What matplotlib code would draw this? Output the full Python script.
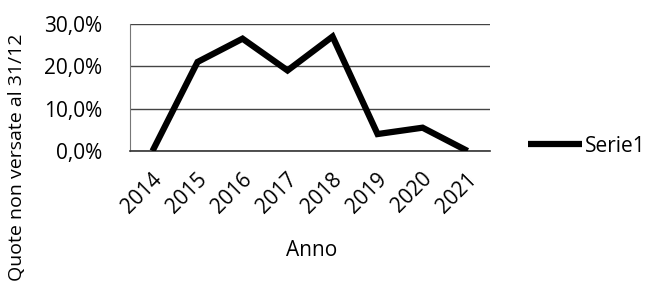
import matplotlib
matplotlib.use('Agg')
import matplotlib.pyplot as plt
from matplotlib.ticker import FuncFormatter
from matplotlib.transforms import ScaledTranslation

anni = ['2014', '2015', '2016', '2017', '2018', '2019', '2020', '2021']
quote = [0.0, 21.0, 26.5, 19.0, 27.0, 4.0, 5.5, 0.0]
yticks = [0, 10, 20, 30]

plt.rcParams['font.family'] = ['Open Sans', 'DejaVu Sans']

fig = plt.figure(figsize=(6.5, 2.89), dpi=100)
ax = fig.add_axes([0.2, 0.4775, 0.554, 0.44])

x = list(range(len(anni)))
ax.plot(x, quote, color='black', linewidth=4.5, solid_joinstyle='miter',
        solid_capstyle='butt', label='Serie1', zorder=3)

ax.set_xlim(-0.5, len(anni) - 0.5)
ax.set_ylim(0, 30)
ax.set_yticks(yticks)
ax.yaxis.set_major_formatter(FuncFormatter(lambda v, p: ('%.1f%%' % v).replace('.', ',')))
ax.set_xticks(x)
ax.set_xticklabels(anni, rotation=45, ha='right', va='center',
                   rotation_mode='anchor')
ax.tick_params(axis='x', length=0, pad=18, labelsize=15)
ax.tick_params(axis='y', length=0, pad=20, labelsize=15)
# shift year labels a little to the right, like the original
offset = ScaledTranslation(6 / 100, 0, fig.dpi_scale_trans)
for lab in ax.get_xticklabels():
    lab.set_transform(lab.get_transform() + offset)

ax.grid(axis='y', color='#444444', linewidth=1.0)
for s in ['top', 'right']:
    ax.spines[s].set_visible(False)
ax.spines['left'].set_color('#777777')
ax.spines['bottom'].set_color('#333333')
ax.spines['bottom'].set_linewidth(1.2)

fig.text(312 / 650, 1 - 251 / 289, 'Anno', ha='center', va='center', fontsize=15)
fig.text(17 / 650, 1 - 157 / 289, 'Quote non versate al 31/12', rotation=90,
         ha='center', va='center', fontsize=14)

fig.legend(loc='center left', bbox_to_anchor=(528 / 650, 1 - 146 / 289), frameon=False,
           handlelength=2.6, handletextpad=0.15, borderpad=0, borderaxespad=0,
           fontsize=15)

fig.savefig('out.png', dpi=100)
